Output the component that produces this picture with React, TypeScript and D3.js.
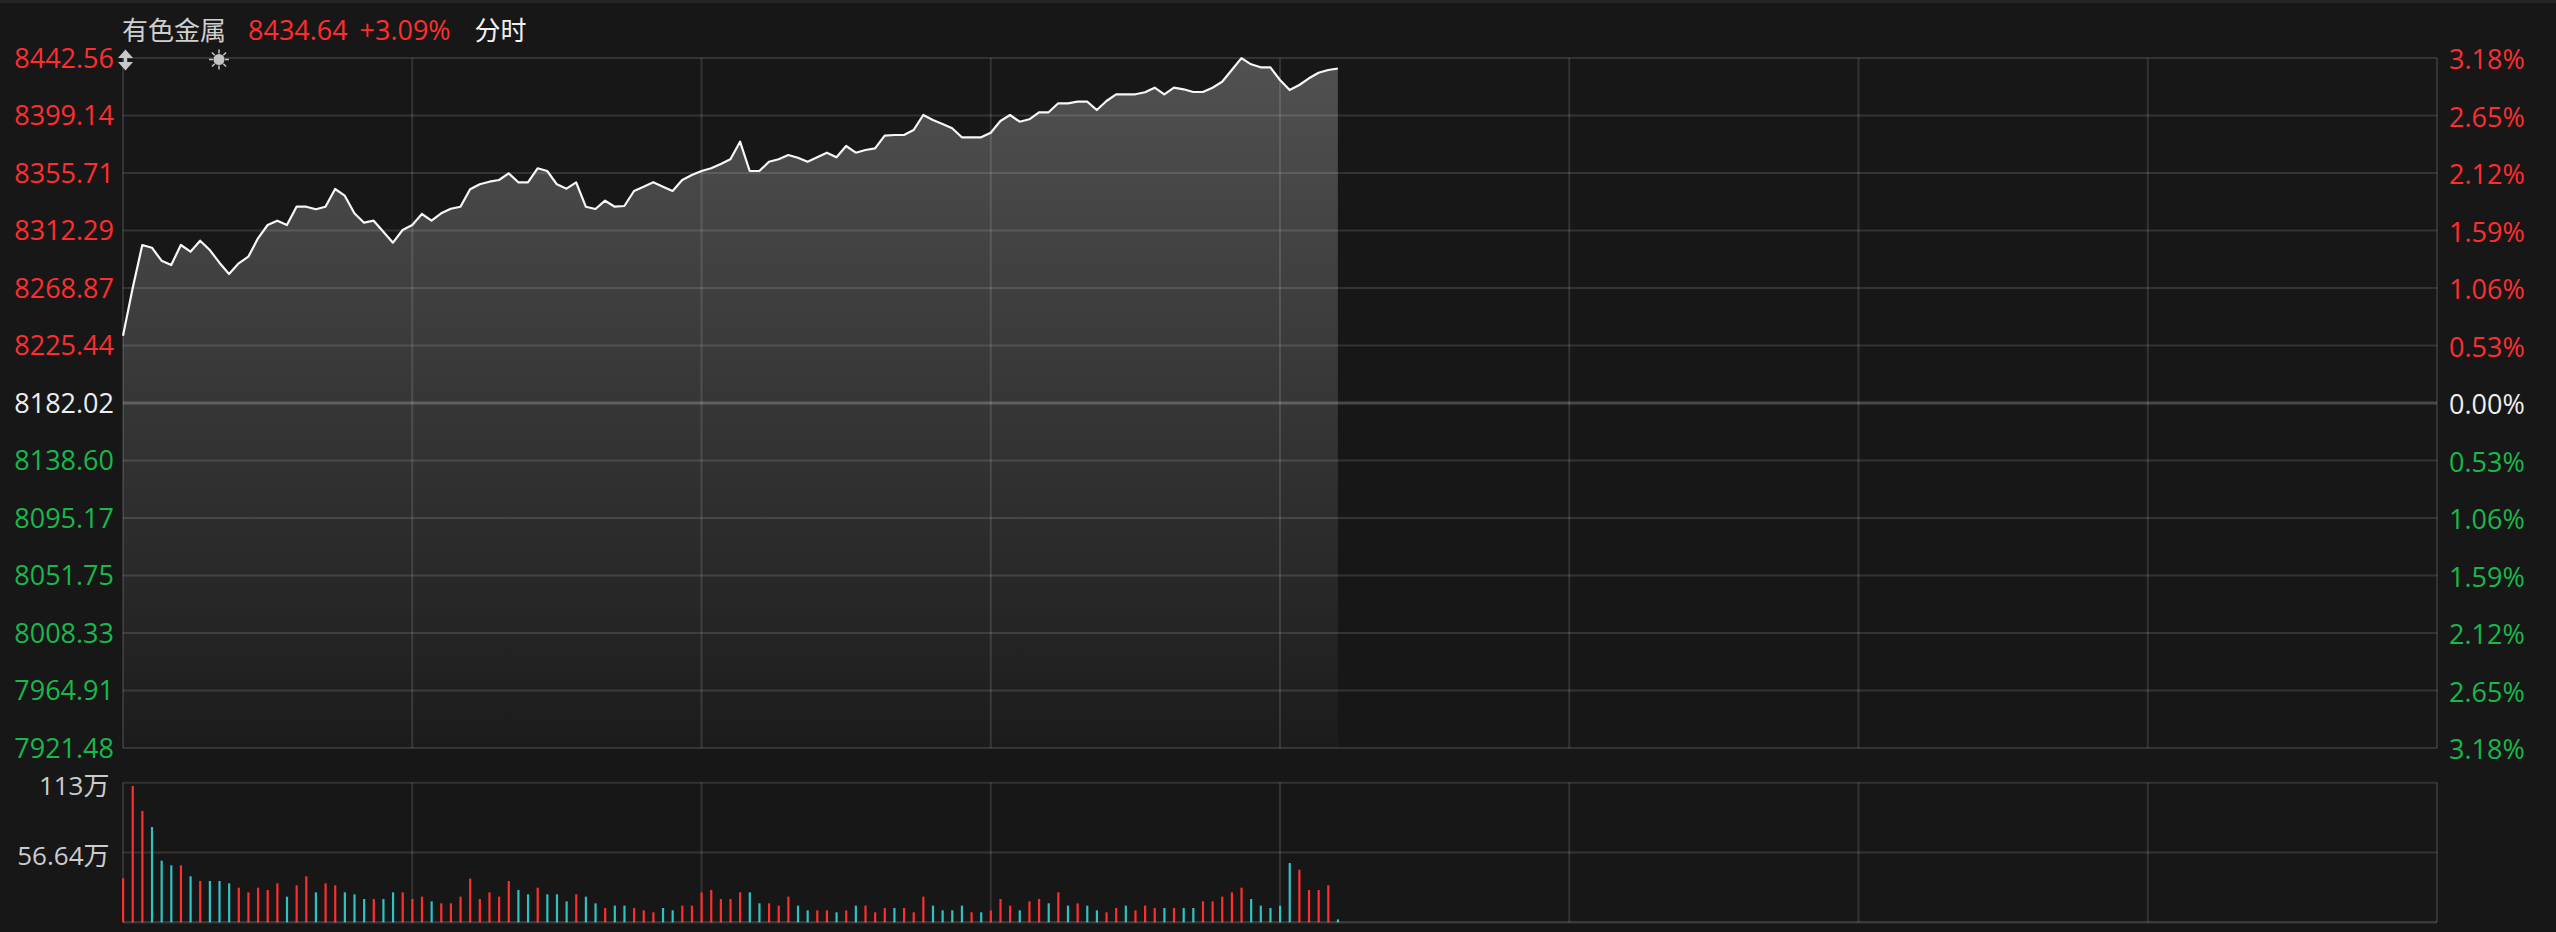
import React from 'react';
import * as d3 from 'd3';

const W = 2556;
const H = 932;

const title = '有色金属';
const lastPrice = '8434.64';
const lastChange = '+3.09%';
const modeLabel = '分时';

const prevClose = 8182.02;
const priceMax = 8442.56;
const priceMin = 7921.48;
const volMax = 113.28;
const totalMinutes = 240;

const leftTicks = ['8442.56', '8399.14', '8355.71', '8312.29', '8268.87', '8225.44', '8182.02', '8138.60', '8095.17', '8051.75', '8008.33', '7964.91', '7921.48'];
const rightTicks = ['3.18%', '2.65%', '2.12%', '1.59%', '1.06%', '0.53%', '0.00%', '0.53%', '1.06%', '1.59%', '2.12%', '2.65%', '3.18%'];
const volTickLabels = ['113万', '56.64万'];
const volTickValues = [113.28, 56.64];
const timeGridMinutes = [0, 30, 60, 90, 120, 150, 180, 210, 240];

const prices = [
  8232.84, 8268.64, 8301.34, 8299.30, 8289.48, 8286.24, 8301.34, 8296.28, 8304.59, 8297.56,
  8287.97, 8279.44, 8287.52, 8292.50, 8306.40, 8316.44, 8319.69, 8316.44, 8330.26, 8330.26,
  8328.30, 8330.26, 8343.63, 8338.57, 8325.28, 8318.18, 8319.69, 8311.38, 8303.08, 8312.67,
  8316.44, 8324.75, 8319.69, 8325.28, 8328.75, 8330.26, 8343.40, 8347.18, 8349.14, 8350.43,
  8355.49, 8348.69, 8348.69, 8359.26, 8357.22, 8347.18, 8343.86, 8348.69, 8330.26, 8328.53,
  8334.79, 8330.26, 8330.79, 8342.12, 8345.37, 8348.69, 8345.37, 8342.12, 8350.43, 8354.20,
  8357.22, 8359.26, 8362.51, 8366.06, 8379.35, 8357.22, 8357.22, 8364.25, 8366.06, 8369.31,
  8367.27, 8364.25, 8367.57, 8371.04, 8367.57, 8376.10, 8371.04, 8373.08, 8374.37, 8383.88,
  8384.41, 8384.41, 8388.19, 8399.51, 8395.74, 8392.72, 8389.47, 8382.67, 8382.67, 8382.67,
  8386.15, 8394.98, 8399.51, 8394.45, 8396.27, 8401.55, 8401.55, 8408.35, 8408.35, 8409.56,
  8409.56, 8403.29, 8410.09, 8415.15, 8415.15, 8415.15, 8416.66, 8420.13, 8415.15, 8420.13,
  8418.92, 8416.88, 8416.88, 8420.13, 8424.66, 8433.50, 8442.50, 8437.80, 8435.54, 8435.54,
  8425.95, 8418.39, 8422.17, 8427.23, 8431.46, 8433.50, 8434.64,
];

// volume in 万
const volumes = [
  35.7, 110.6, 90.3, 77.3, 50.0, 46.2, 46.2, 37.3, 33.5, 33.5,
  33.5, 31.6, 28.1, 24.3, 28.1, 26.2, 31.6, 20.8, 30.0, 37.3,
  24.3, 31.6, 30.0, 24.3, 22.7, 18.9, 18.9, 18.9, 24.3, 24.3,
  18.9, 20.8, 17.0, 15.4, 15.4, 20.8, 35.4, 18.9, 24.3, 20.8,
  33.5, 26.2, 22.7, 28.1, 22.7, 22.7, 17.0, 22.7, 20.8, 15.4,
  11.6, 13.5, 13.5, 11.6, 9.7, 8.1, 11.6, 9.7, 13.5, 13.5,
  24.3, 26.2, 18.9, 18.9, 24.3, 24.3, 15.4, 15.4, 13.5, 20.8,
  13.5, 9.7, 9.7, 9.7, 8.1, 9.7, 13.5, 13.5, 8.1, 11.6,
  11.6, 11.6, 8.1, 20.8, 13.5, 9.7, 9.7, 13.5, 8.1, 8.1,
  9.7, 18.9, 13.5, 9.7, 17.0, 18.9, 15.4, 24.3, 13.5, 15.4,
  13.5, 9.7, 8.1, 11.6, 13.5, 9.7, 13.5, 11.6, 11.6, 11.6,
  11.6, 11.6, 17.0, 17.0, 20.8, 24.3, 28.1, 18.9, 13.5, 11.6,
  13.5, 48.1, 42.7, 26.2, 26.2, 30.0, 2.4,
];

// r = up (red), c = down (cyan)
const volumeSide = [
  'rrrcccrcrc', 'ccrrrrrcrr', 'crrcccrccr', 'rrcrrrrrrr', 'rccrcccrcc',
  'rccrrrccrr', 'rrrrrccrrr', 'ccrrcrcrrr', 'crrrccccrc', 'rrrcrrcrcr',
  'ccrrcrrrcr', 'ccrrrrrccc', 'ccrrrrc',
].join('').split('');

const RED = '#ff2e2e';
const GREEN = '#18b84a';
const CYAN = '#2ec2c2';
const FONT = "'Open Sans', 'Noto Sans CJK SC', sans-serif";

const L = 123;
const R = 2437;
const T = 58;
const B = 748;
const VT = 782.7;
const VB = 922.3;

export default function App() {
  const x = d3.scaleLinear().domain([0, totalMinutes]).range([L, R]);
  const y = d3.scaleLinear().domain([priceMin, priceMax]).range([B, T]);
  const vy = d3.scaleLinear().domain([0, volMax]).range([VB, VT]);

  const tickStep = (priceMax - prevClose) / 6;
  const tickValues = leftTicks.map((_, i) => priceMax - i * tickStep);

  const line = d3.line<number>().x((_, i) => x(i)).y((d) => y(d));
  const area = d3.area<number>().x((_, i) => x(i)).y0(B).y1((d) => y(d));

  const gridStroke = 'rgba(255,255,255,0.12)';

  const labelColor = (i: number) => (i < 6 ? RED : i === 6 ? '#eeeeee' : GREEN);

  return (
    <svg width={W} height={H} style={{ position: 'absolute', left: 0, top: 0, display: 'block' }} fontFamily={FONT}>
      <defs>
        <linearGradient id="fillGrad" gradientUnits="userSpaceOnUse" x1={0} y1={T} x2={0} y2={B}>
          <stop offset="0" stopColor="#ffffff" stopOpacity={0.25} />
          <stop offset="1" stopColor="#ffffff" stopOpacity={0.02} />
        </linearGradient>
      </defs>
      <rect x={0} y={0} width={W} height={H} fill="#171717" />
      <rect x={0} y={0} width={W} height={3} fill="#232323" />

      {/* header */}
      <text x={122} y={39.5} fontSize={26} fill="#cfcfcf">{title}</text>
      <text x={248} y={39.5} fontSize={27} fill={RED}>{lastPrice}</text>
      <text x={359.5} y={39.5} fontSize={27} fill={RED}>{lastChange}</text>
      <text x={474.5} y={39.5} fontSize={26} fill="#f2f2f2">{modeLabel}</text>

      {/* price area */}
      <path d={area(prices) || ''} fill="url(#fillGrad)" />

      {/* price grid */}
      {tickValues.map((v, i) =>
        i === 6 ? null : (
          <line key={'h' + i} x1={L} x2={R} y1={y(v)} y2={y(v)} stroke={gridStroke} strokeWidth={2} />
        )
      )}
      <line x1={L} x2={R} y1={y(prevClose)} y2={y(prevClose)} stroke="rgba(255,255,255,0.21)" strokeWidth={3} />
      {timeGridMinutes.map((m) => (
        <line key={'v' + m} x1={x(m)} x2={x(m)} y1={T} y2={B} stroke={gridStroke} strokeWidth={2} />
      ))}

      {/* price line */}
      <path d={line(prices) || ''} fill="none" stroke="#f7f7f7" strokeWidth={2.2} strokeLinejoin="round" />

      {/* left labels */}
      {leftTicks.map((t, i) => (
        <text key={'lt' + i} x={114} y={y(tickValues[i]) + 9.6} fontSize={27} textAnchor="end" fill={labelColor(i)}>
          {t}
        </text>
      ))}
      {/* right labels */}
      {rightTicks.map((t, i) => (
        <text key={'rt' + i} x={2449} y={y(tickValues[i]) + 11} fontSize={27} textAnchor="start" fill={labelColor(i)}>
          {t}
        </text>
      ))}

      {/* icons */}
      <g fill="#c8c8c8">
        <path d="M118,58 L125.5,49.5 L133,58 Z" />
        <rect x={123.8} y={56} width={3.4} height={8} />
        <path d="M118,62 L125.5,70.5 L133,62 Z" />
      </g>
      <g stroke="#c4c4c4" strokeWidth={1.5}>
        <circle cx={219} cy={59.5} r={5.5} fill="#c4c4c4" stroke="none" />
        {d3.range(8).map((k) => {
          const a = (k * Math.PI) / 4;
          return (
            <line key={'ray' + k} x1={219 + 6 * Math.cos(a)} y1={59.5 + 6 * Math.sin(a)} x2={219 + 10 * Math.cos(a)} y2={59.5 + 10 * Math.sin(a)} />
          );
        })}
      </g>

      {/* volume grid */}
      <line x1={L} x2={R} y1={vy(volTickValues[0])} y2={vy(volTickValues[0])} stroke={gridStroke} strokeWidth={2} />
      <line x1={L} x2={R} y1={vy(volTickValues[1])} y2={vy(volTickValues[1])} stroke={gridStroke} strokeWidth={2} />
      {timeGridMinutes.map((m) => (
        <line key={'vv' + m} x1={x(m)} x2={x(m)} y1={VT} y2={VB} stroke={gridStroke} strokeWidth={2} />
      ))}

      {/* volume bars */}
      {volumes.map((v, i) => (
        <rect
          key={'b' + i}
          x={x(i) - 1}
          y={vy(v)}
          width={2.2}
          height={VB - vy(v)}
          fill={volumeSide[i] === 'r' ? RED : CYAN}
        />
      ))}
      <line x1={L} x2={R} y1={VB} y2={VB} stroke="rgba(255,255,255,0.15)" strokeWidth={2.5} />

      {/* volume labels */}
      {volTickLabels.map((t, i) => (
        <text key={'vl' + i} x={109.5} y={vy(volTickValues[i]) + 12} fontSize={26} textAnchor="end" fill="#cccccc">
          {t}
        </text>
      ))}
    </svg>
  );
}
